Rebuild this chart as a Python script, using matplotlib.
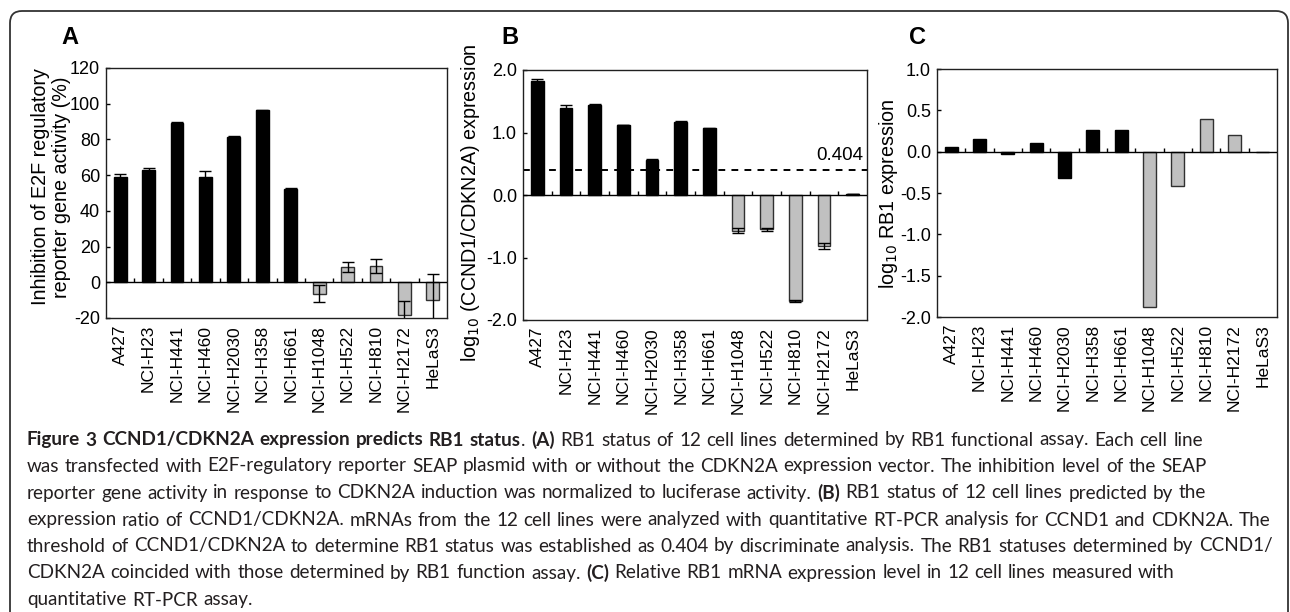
import matplotlib
matplotlib.use("Agg")
import matplotlib.pyplot as plt
import matplotlib.patches as mpatches
import matplotlib.transforms as mtrans
import numpy as np

plt.rcParams['font.family'] = ['Liberation Sans', 'DejaVu Sans']
plt.rcParams['axes.unicode_minus'] = False

cells = ['A427', 'NCI-H23', 'NCI-H441', 'NCI-H460', 'NCI-H2030', 'NCI-H358',
         'NCI-H661', 'NCI-H1048', 'NCI-H522', 'NCI-H810', 'NCI-H2172', 'HeLaS3']

# panel A: inhibition of E2F reporter (%)
inhib = [59, 63, 89.3, 59, 81.6, 96.3, 52, -6.3, 8.5, 9.2, -18.2, -10]
inhib_err = [1.9, 1.2, 0.5, 3.3, 0.5, 0.4, 1.0, 4.6, 3.0, 4.0, 7.5, 14.5]
gray_a = [False] * 7 + [True] * 5

# panel B: log10 CCND1/CDKN2A
ratio = [1.83, 1.39, 1.44, 1.12, 0.56, 1.17, 1.07, -0.57, -0.55, -1.69, -0.81, 0.02]
ratio_err = [0.03, 0.05, 0.01, 0.0, 0.01, 0.01, 0.01, 0.04, 0.03, 0.015, 0.05, 0.0]
gray_b = [False] * 7 + [True] * 4 + [False]
threshold = 0.404

# panel C: log10 RB1
rb1 = [0.06, 0.15, -0.03, 0.10, -0.32, 0.26, 0.26, -1.885, -0.415, 0.40, 0.20, 0.0]
gray_c = [False] * 7 + [True] * 4 + [False]

W, H = 1290, 612
fig = plt.figure(figsize=(W / 100, H / 100), dpi=100)

# outer rounded frame
frame = mpatches.FancyBboxPatch((10, -30), 1278, 631, boxstyle="round,pad=0,rounding_size=12",
                                transform=mtrans.IdentityTransform(), fill=False,
                                edgecolor='#333333', linewidth=1.3)
fig.patches.append(frame)


def px_axes(x0, y0, x1, y1):
    return fig.add_axes([x0 / W, 1 - y1 / H, (x1 - x0) / W, (y1 - y0) / H])


def bar_panel(ax, vals, gray, ylim, yticks, fmt, err=None):
    x = np.arange(len(vals)) + 0.5
    cols = ['#c0c0c0' if g else 'black' for g in gray]
    edges = ['#303030' if g else 'black' for g in gray]
    ax.bar(x, vals, width=0.45, color=cols, edgecolor=edges, linewidth=1.0, zorder=2)
    if err is not None:
        ax.errorbar(x, vals, yerr=err, fmt='none', ecolor='black', elinewidth=1.0,
                    capsize=4, capthick=1.0, zorder=3)
    ax.axhline(0, color='black', linewidth=1.0, zorder=4)
    # small marks on the zero line between categories
    th = 0.016 * (ylim[1] - ylim[0])
    ax.vlines(np.arange(1, len(vals)), 0, th, color='black', linewidth=1.0, zorder=4)
    ax.set_xlim(0, len(vals))
    ax.set_ylim(*ylim)
    ax.set_yticks(yticks)
    ax.set_yticklabels([fmt % v for v in yticks])
    ax.set_xticks(x)
    ax.set_xticklabels(cells, rotation=90)
    ax.tick_params(axis='x', length=0, pad=5, labelsize=12.5)
    ax.tick_params(axis='y', direction='in', length=3, width=1.0, pad=4.3, labelsize=13)
    for s in ax.spines.values():
        s.set_linewidth(1.0)
        s.set_color('#202020')


# panel A
axA = px_axes(106, 68, 447, 318)
bar_panel(axA, inhib, gray_a, (-20, 120), list(range(-20, 121, 20)), '%d', inhib_err)
axA.set_ylabel('Inhibition of E2F regulatory\nreporter gene activity (%)', fontsize=14.2,
               linespacing=1.17)
axA.yaxis.set_label_coords(-0.102, 0.524)

# panel B
axB = px_axes(523, 70, 867, 320)
bar_panel(axB, ratio, gray_b, (-2, 2), [-2.0, -1.0, 0.0, 1.0, 2.0], '%.1f', ratio_err)
axB.axhline(threshold, color='black', linewidth=1.4, linestyle=(0, (3.5, 3.2)), zorder=1)
axB.text(0.99, threshold + 0.1, '%.3f' % threshold,
         transform=mtrans.blended_transform_factory(axB.transAxes, axB.transData),
         ha='right', va='bottom', fontsize=13.5)
axB.set_ylabel('log$_{10}$ (CCND1/CDKN2A) expression', fontsize=14.2)
axB.yaxis.set_label_coords(-0.118, 0.47)

# panel C
axC = px_axes(937, 69, 1277, 317)
bar_panel(axC, rb1, gray_c, (-2, 1), [-2.0, -1.5, -1.0, -0.5, 0.0, 0.5, 1.0], '%.1f')
axC.set_ylabel('log$_{10}$ RB1 expression', fontsize=14.2)
axC.yaxis.set_label_coords(-0.11, 0.498)

for lab, xp in [('A', 70), ('B', 510), ('C', 917)]:
    fig.text(xp / W, 1 - 38 / H, lab, ha='center', va='center', fontsize=17, weight='bold')

# caption
caption = [
    [('Figure 3 CCND1/CDKN2A expression predicts RB1 status', True), ('. ', False),
     ('(A)', True), (' RB1 status of 12 cell lines determined by RB1 functional assay. Each cell line', False)],
    [('was transfected with E2F-regulatory reporter SEAP plasmid with or without the CDKN2A expression vector. The inhibition level of the SEAP', False)],
    [('reporter gene activity in response to CDKN2A induction was normalized to luciferase activity. ', False),
     ('(B)', True), (' RB1 status of 12 cell lines predicted by the', False)],
    [('expression ratio of CCND1/CDKN2A. mRNAs from the 12 cell lines were analyzed with quantitative RT-PCR analysis for CCND1 and CDKN2A. The', False)],
    [('threshold of CCND1/CDKN2A to determine RB1 status was established as 0.404 by discriminate analysis. The RB1 statuses determined by CCND1/', False)],
    [('CDKN2A coincided with those determined by RB1 function assay. ', False), ('(C)', True),
     (' Relative RB1 mRNA expression level in 12 cell lines measured with', False)],
    [('quantitative RT-PCR assay.', False)],
]
cap_y = [440, 466, 493, 520, 546, 573, 600]
cap_font = ['Lato', 'DejaVu Sans']
cap_x0, cap_x1 = 27, 1277

renderer = fig.canvas.get_renderer()
ident = mtrans.IdentityTransform()


def draw_line(segs, x0, y, size):
    t = fig.text(0, 0, 'x x', fontsize=size, family=cap_font, transform=ident)
    w2 = t.get_window_extent(renderer).width
    t.set_text('xx')
    space = w2 - t.get_window_extent(renderer).width
    t.remove()
    x = x0
    drawn = []
    for s, bold in segs:
        parts = s.split(' ')
        for k, p in enumerate(parts):
            if k > 0:
                x += space
            if p:
                tt = fig.text(x, H - y, p, fontsize=size, family=cap_font, transform=ident,
                              weight='bold' if bold else 'normal', va='center', ha='left',
                              color='#231f20')
                x = tt.get_window_extent(renderer).x1 + 0.6
                drawn.append(tt)
    return x, drawn


# fit caption size so the widest line spans the text block
widest = 0
for segs in caption:
    w, drawn = draw_line(segs, 0, -100, 10)
    widest = max(widest, w)
    for t in drawn:
        t.remove()
size = 10 * (cap_x1 - cap_x0) / widest
for segs, yy in zip(caption, cap_y):
    draw_line(segs, cap_x0, yy, size)

fig.savefig('out.png', dpi=100)
